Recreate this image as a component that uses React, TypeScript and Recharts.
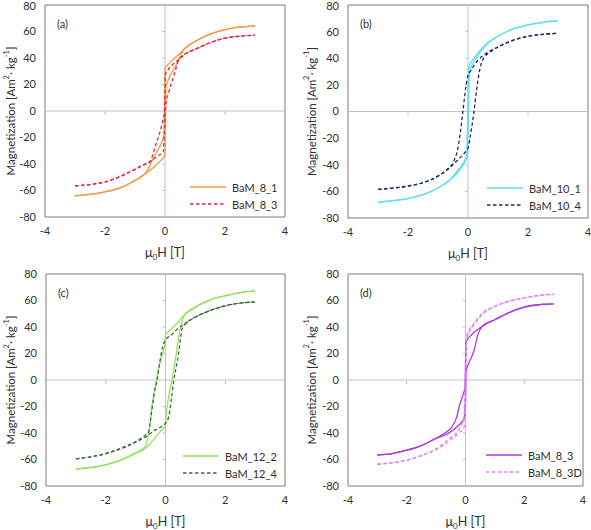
import { LineChart, Line, XAxis, YAxis, ReferenceLine, ReferenceArea } from 'recharts';

type Pair = [number, number];

// H in T, M in Am2/kg. each branch is listed with rising H
// (a)
const bam8_1Upper: Pair[] = [[-3, -64], [-2.5, -63], [-2, -61], [-1.5, -58], [-1, -52.5], [-0.7, -48], [-0.65, -47], [-0.4, -36], [-0.1, -23], [-0.035, -19], [-0.02, 0], [-0.01, 20], [0, 32], [0.1, 35], [0.3, 39.5], [0.5, 43.5], [0.7, 48], [1, 52.5], [1.5, 58], [2, 61.5], [2.5, 63.3], [3, 64.3]];
const bam8_1Lower: Pair[] = [[-3, -64], [-2.5, -63], [-2, -61], [-1.5, -58], [-1, -52.5], [-0.7, -48], [-0.35, -42], [-0.15, -37.5], [0, -33], [0.01, -20], [0.02, 0], [0.035, 19], [0.1, 23], [0.4, 36], [0.65, 47], [0.7, 48], [1, 52.5], [1.5, 58], [2, 61.5], [2.5, 63.3], [3, 64.3]];
const bam8_3Upper: Pair[] = [[-3, -56.5], [-2.5, -55.5], [-2, -53.5], [-1.5, -49.5], [-1, -44], [-0.7, -40.5], [-0.5, -38], [-0.33, -27], [-0.17, -16], [-0.08, -8], [-0.02, -1], [0, 14], [0.02, 28], [0.1, 31], [0.3, 36], [0.5, 39.5], [0.67, 43], [1, 46.5], [1.5, 51.5], [2, 55], [2.5, 56.5], [3, 57.2]];
const bam8_3Lower: Pair[] = [[-3, -56.5], [-2.5, -55.5], [-2, -53.5], [-1.5, -49.5], [-1, -44], [-0.7, -40.5], [-0.5, -38.5], [-0.25, -34], [-0.06, -31], [-0.02, -16], [0.01, 0], [0.04, 7], [0.11, 13], [0.3, 27], [0.45, 38], [0.67, 43], [1, 46.5], [1.5, 51.5], [2, 55], [2.5, 56.5], [3, 57.2]];

// (b)
const bam10_1Upper: Pair[] = [[-3, -68.2], [-2.5, -67], [-2, -65.5], [-1.5, -62.5], [-1, -57.5], [-0.6, -51], [-0.3, -43], [-0.1, -36], [-0.04, -31], [-0.02, -15], [0, 10], [0.01, 28], [0.03, 34], [0.1, 37], [0.3, 43], [0.6, 50.5], [1, 56.5], [1.5, 62], [2, 65], [2.5, 67], [3, 68.2]];
const bam10_1Lower: Pair[] = [[-3, -68.2], [-2.5, -67], [-2, -65.5], [-1.5, -62.5], [-1, -57.5], [-0.6, -51.5], [-0.3, -44.5], [-0.1, -38], [-0.03, -34], [-0.01, -28], [0.01, -10], [0.03, 15], [0.05, 29], [0.1, 33], [0.3, 41], [0.6, 50], [1, 56.5], [1.5, 62], [2, 65], [2.5, 67], [3, 68.2]];
const bam10_4Upper: Pair[] = [[-3, -58.5], [-2.5, -57.5], [-2, -56], [-1.5, -53.5], [-1, -48.5], [-0.7, -43.5], [-0.5, -38.5], [-0.44, -35.5], [-0.33, -27], [-0.25, -15], [-0.17, 0], [-0.08, 17], [0, 27], [0.1, 31], [0.33, 38.5], [0.6, 43.5], [1, 48.5], [1.5, 53.5], [2, 56.5], [2.5, 58], [3, 58.7]];
const bam10_4Lower: Pair[] = [[-3, -58.5], [-2.5, -57.5], [-2, -56], [-1.5, -53.5], [-1, -48.5], [-0.7, -44], [-0.5, -40], [-0.3, -35.5], [-0.11, -31], [0, -27.5], [0.08, -18], [0.2, 0], [0.28, 15], [0.35, 26], [0.44, 36], [0.55, 41], [0.7, 44], [1, 48.5], [1.5, 53.5], [2, 56.5], [2.5, 58], [3, 58.7]];

// (c)
const bam12_2Upper: Pair[] = [[-3, -67.3], [-2.5, -66], [-2, -64], [-1.5, -60.5], [-1, -55], [-0.8, -52.5], [-0.67, -50], [-0.6, -44], [-0.53, -35], [-0.44, -18], [-0.33, -3], [-0.22, 10], [-0.1, 20], [-0.02, 28], [0, 34], [0.1, 36.5], [0.33, 41.5], [0.67, 50], [1, 55], [1.5, 60.5], [2, 63.5], [2.5, 66], [3, 67.2]];
const bam12_2Lower: Pair[] = [[-3, -67.3], [-2.5, -66], [-2, -64], [-1.5, -60.5], [-1, -55.5], [-0.67, -51.5], [-0.33, -43], [-0.1, -37], [0, -34.5], [0.02, -28], [0.11, -12], [0.22, 0], [0.33, 15], [0.44, 32], [0.56, 45], [0.67, 50], [1, 55], [1.5, 60.5], [2, 63.5], [2.5, 66], [3, 67.2]];
const bam12_4Upper: Pair[] = [[-3, -59.5], [-2.5, -58], [-2, -55.5], [-1.5, -51.5], [-1, -46.5], [-0.7, -42], [-0.56, -39], [-0.5, -30], [-0.44, -20], [-0.36, -8], [-0.28, 0], [-0.2, 12], [-0.11, 24], [0, 30], [0.2, 34], [0.4, 38.5], [0.61, 42], [1, 47.5], [1.5, 52.5], [2, 56], [2.5, 58], [3, 59]];
const bam12_4Lower: Pair[] = [[-3, -59.5], [-2.5, -58], [-2, -55.5], [-1.5, -52], [-1, -47], [-0.6, -42], [-0.4, -38.5], [-0.2, -36], [0, -32.5], [0.11, -27.5], [0.2, -14], [0.28, 0], [0.36, 10], [0.44, 20], [0.5, 31], [0.56, 39], [0.7, 43], [1, 47.5], [1.5, 52.5], [2, 56], [2.5, 58], [3, 59]];

// (d)
const bam8_3dUpper: Pair[] = [[-3, -56.6], [-2.5, -55.5], [-2, -53], [-1.5, -49.5], [-1, -44], [-0.7, -40], [-0.48, -36], [-0.3, -28], [-0.19, -18], [-0.08, -11], [-0.02, -6], [0, 10], [0.01, 28], [0.05, 30], [0.2, 34], [0.4, 38], [0.6, 41], [1, 45.5], [1.5, 51], [2, 55], [2.5, 56.8], [3, 57.4]];
const bam8_3dLower: Pair[] = [[-3, -56.6], [-2.5, -55.5], [-2, -53], [-1.5, -49.5], [-1, -44], [-0.6, -40.5], [-0.25, -34.5], [-0.05, -29], [0, -15], [0.02, 7], [0.1, 12], [0.2, 17], [0.3, 23], [0.43, 35], [0.6, 41], [1, 45.5], [1.5, 51], [2, 55], [2.5, 56.8], [3, 57.4]];
const bam8_3DUpper: Pair[] = [[-3, -63.6], [-2.5, -62.5], [-2, -60.5], [-1.5, -57], [-1, -52], [-0.6, -45], [-0.25, -38], [-0.05, -28], [-0.02, -10], [0, 15], [0.01, 30], [0.09, 36], [0.3, 43], [0.55, 50], [1, 55.5], [1.5, 59.5], [2, 62], [2.5, 63.8], [3, 64.7]];
const bam8_3DLower: Pair[] = [[-3, -63.6], [-2.5, -62.5], [-2, -60.5], [-1.5, -57], [-1, -52.5], [-0.55, -46], [-0.25, -40.5], [-0.05, -35.5], [-0.01, -30], [0.01, -10], [0.03, 20], [0.06, 32], [0.15, 37], [0.3, 42], [0.55, 49], [1, 55.5], [1.5, 59.5], [2, 62], [2.5, 63.8], [3, 64.7]];

const hTicks = [-4, -2, 0, 2, 4];
const mTicks = [-80, -60, -40, -20, 0, 20, 40, 60, 80];
const zeroAxisHTicks = [-2, 2];
const zeroAxisMTicks = [-60, -40, -20, 20, 40, 60];

const FONT = 'Lato, "Open Sans", sans-serif';
const TEXT = '#303030';
const FRAME = '#7a7a7a';
const ZERO = '#b4c6d8';
const DASH = '3.5 2.5';
const YAXIS_W = 33;
const XAXIS_H = 40;

const pts = (arr: Pair[]) => arr.map(([h, m]) => ({ h, m }));

interface Series {
  name: string;
  color: string;
  dash?: string;
  upper: Pair[];
  lower: Pair[];
}

interface PanelCfg {
  tag: string;
  x: number;
  y: number;
  w: number;
  h: number;
  margin: { top: number; right: number; bottom: number; left: number };
  yTitleX: number;
  legendX: number;
  legendY: number;
  series: Series[];
}

const panels: PanelCfg[] = [
  {
    tag: '(a)', x: 0, y: 0, w: 295, h: 265,
    margin: { top: 5, right: 10, bottom: 8, left: 12 },
    yTitleX: 10.5, legendX: 190, legendY: 187,
    series: [
      { name: 'BaM_8_1', color: '#f79646', upper: bam8_1Upper, lower: bam8_1Lower },
      { name: 'BaM_8_3', color: '#e2283a', dash: DASH, upper: bam8_3Upper, lower: bam8_3Lower },
    ],
  },
  {
    tag: '(b)', x: 295, y: 0, w: 296, h: 265,
    margin: { top: 5, right: 3, bottom: 7, left: 20 },
    yTitleX: 16, legendX: 192, legendY: 188,
    series: [
      { name: 'BaM_10_1', color: '#5fe0ee', upper: bam10_1Upper, lower: bam10_1Lower },
      { name: 'BaM_10_4', color: '#1f2b66', dash: DASH, upper: bam10_4Upper, lower: bam10_4Lower },
    ],
  },
  {
    tag: '(c)', x: 0, y: 265, w: 295, h: 265,
    margin: { top: 9, right: 10, bottom: 4, left: 13 },
    yTitleX: 10.5, legendX: 183, legendY: 191,
    series: [
      { name: 'BaM_12_2', color: '#92e25c', upper: bam12_2Upper, lower: bam12_2Lower },
      { name: 'BaM_12_4', color: '#3b6b3a', dash: DASH, upper: bam12_4Upper, lower: bam12_4Lower },
    ],
  },
  {
    tag: '(d)', x: 295, y: 265, w: 296, h: 265,
    margin: { top: 9, right: 8, bottom: 4, left: 20 },
    yTitleX: 16, legendX: 191, legendY: 190,
    series: [
      { name: 'BaM_8_3', color: '#ac3ae0', upper: bam8_3dUpper, lower: bam8_3dLower },
      { name: 'BaM_8_3D', color: '#e67ff5', dash: DASH, upper: bam8_3DUpper, lower: bam8_3DLower },
    ],
  },
];

function Panel({ p }: { p: PanelCfg }) {
  const plotLeft = p.margin.left + YAXIS_W;
  const plotRight = p.w - p.margin.right;
  const plotTop = p.margin.top;
  const plotBottom = p.h - p.margin.bottom - XAXIS_H;
  const tickStyle = { fontSize: 11, fill: TEXT, fontFamily: FONT };
  const midY = (plotTop + plotBottom) / 2;

  return (
    <div style={{ position: 'absolute', left: p.x, top: p.y, width: p.w, height: p.h }}>
      <LineChart width={p.w} height={p.h} margin={p.margin}>
        <XAxis
          type="number"
          dataKey="h"
          domain={[-4, 4]}
          ticks={hTicks}
          allowDataOverflow
          axisLine={false}
          tickLine={false}
          tickSize={6}
          tickMargin={4}
          height={XAXIS_H}
          tick={tickStyle}
        />
        <YAxis
          type="number"
          domain={[-80, 80]}
          ticks={mTicks}
          allowDataOverflow
          axisLine={false}
          tickLine={false}
          tickSize={6}
          tickMargin={3}
          width={YAXIS_W}
          tick={tickStyle}
        />
        <ReferenceLine x={0} stroke={ZERO} strokeWidth={1} />
        <ReferenceLine y={0} stroke={ZERO} strokeWidth={1} />
        {zeroAxisHTicks.map((t) => (
          <ReferenceLine key={'ht' + t} segment={[{ x: t, y: 0 }, { x: t, y: -3 }]} stroke={ZERO} />
        ))}
        {zeroAxisMTicks.map((t) => (
          <ReferenceLine key={'mt' + t} segment={[{ x: -0.1, y: t }, { x: 0, y: t }]} stroke={ZERO} />
        ))}
        <ReferenceArea x1={-4} x2={4} y1={-80} y2={80} fill="none" stroke={FRAME} strokeWidth={1} />
        {p.series.flatMap((s) =>
          [s.upper, s.lower].map((branch, i) => (
            <Line
              key={s.name + i}
              data={pts(branch)}
              dataKey="m"
              type="monotone"
              stroke={s.color}
              strokeWidth={1.3}
              strokeDasharray={s.dash}
              dot={false}
              activeDot={false}
              isAnimationActive={false}
            />
          ))
        )}
      </LineChart>

      {/* titles, panel letter and legend */}
      <svg
        width={p.w}
        height={p.h}
        style={{ position: 'absolute', left: 0, top: 0, pointerEvents: 'none' }}
        fontFamily={FONT}
        fill={TEXT}
      >
        <text
          x={p.yTitleX}
          y={midY}
          transform={`rotate(-90, ${p.yTitleX}, ${midY})`}
          textAnchor="middle"
          dominantBaseline="central"
          fontSize={11.5}
        >
          Magnetization [Am<tspan baselineShift="super" fontSize={7.5}>2</tspan>· kg<tspan baselineShift="super" fontSize={7.5}>-1</tspan>]
        </text>
        <text
          x={(plotLeft + plotRight) / 2}
          y={plotBottom + 35}
          textAnchor="middle"
          dominantBaseline="central"
          fontSize={12.5}
        >
          μ<tspan baselineShift="sub" fontSize={8}>0</tspan>H [T]
        </text>
        <text x={plotLeft + 12} y={plotTop + 18} dominantBaseline="central" fontSize={11}>
          {p.tag}
        </text>
        {p.series.map((s, i) => (
          <g key={s.name}>
            <line
              x1={p.legendX}
              x2={p.legendX + 36}
              y1={p.legendY + i * 17}
              y2={p.legendY + i * 17}
              stroke={s.color}
              strokeWidth={1.3}
              strokeDasharray={s.dash}
            />
            <text x={p.legendX + 42} y={p.legendY + i * 17} dominantBaseline="central" fontSize={11}>
              {s.name}
            </text>
          </g>
        ))}
      </svg>
    </div>
  );
}

export default function App() {
  return (
    <div style={{ position: 'absolute', left: 0, top: 0, width: 591, height: 530, background: '#fff' }}>
      {panels.map((p) => (
        <Panel key={p.tag} p={p} />
      ))}
    </div>
  );
}
